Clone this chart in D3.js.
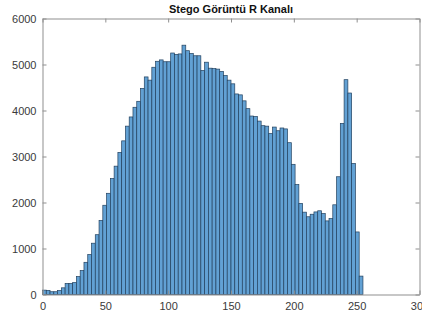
<!DOCTYPE html>
<html>
<head>
<meta charset="utf-8">
<script src="https://cdn.jsdelivr.net/npm/d3@7"></script>
<style>
    body { margin: 0; background: #fff; }
    #chart { width: 422px; height: 322px; }
    .tick text { font-family: "Liberation Sans", Arial, sans-serif; font-size: 11px; fill: #3a3a3a; }
</style>
</head>
<body>
<div id="chart"></div>
<script>
// Histogram of the R channel, bins of width 3 from 0 to 255
const binWidth = 3;
const counts = [
    95, 90, 60, 60, 85, 145, 240, 240, 260, 390,
    520, 700, 870, 1115, 1300, 1610, 1940, 2200, 2520, 2790,
    3090, 3340, 3660, 3860, 4070, 4200, 4480, 4730, 4660, 4940,
    5070, 5100, 5060, 5060, 5250, 5220, 5230, 5420, 5300, 5240,
    5190, 5190, 4870, 5050, 4920, 4910, 4900, 4850, 4760, 4660,
    4580, 4360, 4340, 4210, 4040, 3880, 3870, 3770, 3670, 3660,
    3500, 3640, 3560, 3620, 3600, 3300, 2830, 2390, 1980, 1790,
    1690, 1745, 1795, 1820, 1760, 1600, 1650, 1950, 2560, 3720,
    4670, 4380, 2850, 1360, 400
];
const xTicks = [0, 50, 100, 150, 200, 250, 300];
const yTicks = [0, 1000, 2000, 3000, 4000, 5000, 6000];
const title = "Stego Görüntü R Kanalı";

const bins = counts.map((c, i) => ({ x0: i * binWidth, x1: (i + 1) * binWidth, count: c }));

// Chart size and margins
const margin = { top: 18.5, right: 2.5, bottom: 27.5, left: 42.5 };
const width = 422 - margin.left - margin.right;
const height = 322 - margin.top - margin.bottom;

const svg = d3.select("#chart").append("svg")
    .attr("width", 422)
    .attr("height", 322)
    .append("g")
    .attr("transform", `translate(${margin.left}, ${margin.top})`);

const xScale = d3.scaleLinear().domain([0, 300]).range([0, width]);
const yScale = d3.scaleLinear().domain([0, 6000]).range([height, 0]);

// Bars
svg.selectAll(".bar")
    .data(bins)
    .enter()
    .append("rect")
    .attr("class", "bar")
    .attr("x", d => xScale(d.x0))
    .attr("y", d => yScale(d.count))
    .attr("width", d => xScale(d.x1) - xScale(d.x0))
    .attr("height", d => height - yScale(d.count))
    .attr("fill", "#62a1d4")
    .attr("stroke", "#22405e")
    .attr("stroke-width", 0.7);

// Axes, ticks pointing inward like MATLAB
const axisColor = "#8f8f8f";
const tickLen = 4;
const fmt = d3.format("d");

const xAxis = svg.append("g")
    .attr("transform", `translate(0, ${height})`)
    .call(d3.axisBottom(xScale).tickValues(xTicks).tickFormat(fmt).tickSizeInner(-tickLen).tickSizeOuter(0).tickPadding(8));
const yAxis = svg.append("g")
    .call(d3.axisLeft(yScale).tickValues(yTicks).tickFormat(fmt).tickSizeInner(-tickLen).tickSizeOuter(0).tickPadding(6));
const xTop = svg.append("g")
    .call(d3.axisTop(xScale).tickValues(xTicks).tickSizeInner(-tickLen).tickSizeOuter(0).tickFormat(""));
const yRight = svg.append("g")
    .attr("transform", `translate(${width}, 0)`)
    .call(d3.axisRight(yScale).tickValues(yTicks).tickSizeInner(-tickLen).tickSizeOuter(0).tickFormat(""));

[xAxis, yAxis, xTop, yRight].forEach(g => {
    g.select(".domain").attr("stroke", axisColor);
    g.selectAll(".tick line").attr("stroke", axisColor);
});

// Title
svg.append("text")
    .attr("x", width / 2)
    .attr("y", -6)
    .attr("text-anchor", "middle")
    .style("font-family", "'Liberation Sans', Arial, sans-serif")
    .style("font-size", "11px")
    .style("font-weight", "bold")
    .style("fill", "#111")
    .text(title);
</script>
</body>
</html>
